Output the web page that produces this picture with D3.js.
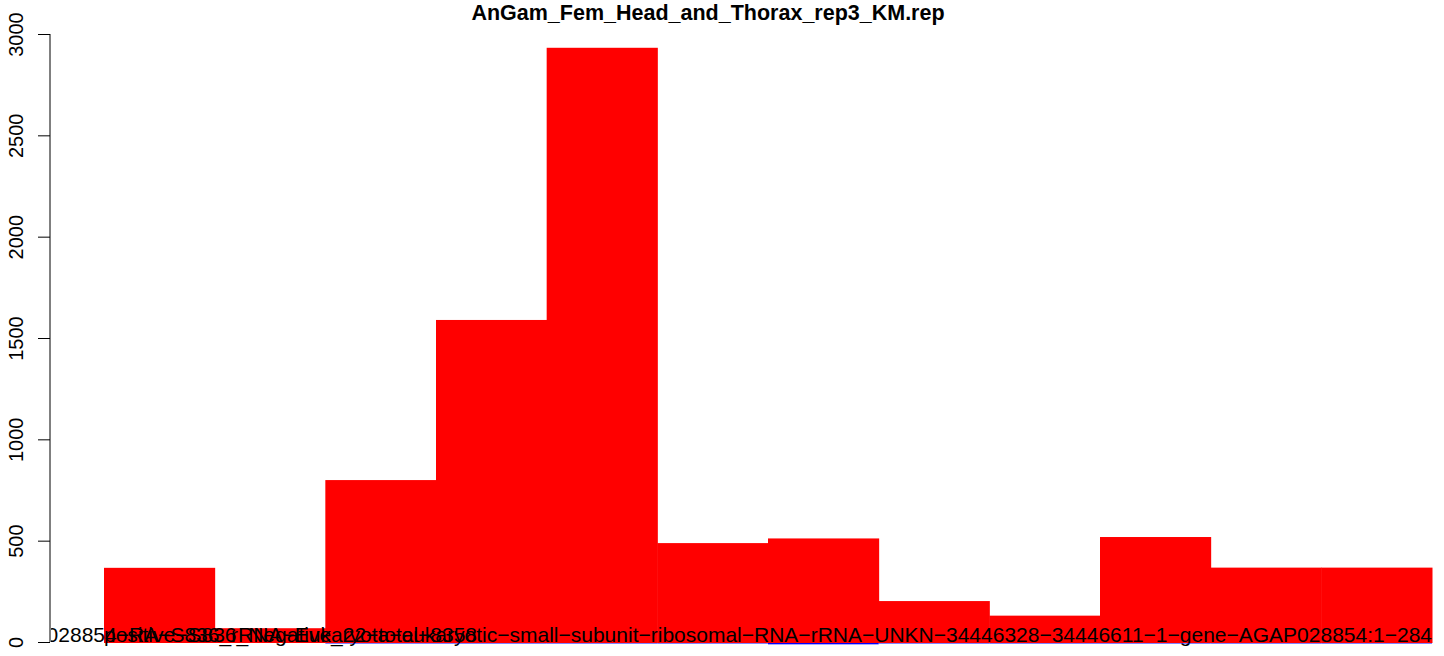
<!DOCTYPE html>
<html>
<head>
<meta charset="utf-8">
<script src="https://cdn.jsdelivr.net/npm/d3@7"></script>
<style>
  html, body { margin: 0; padding: 0; background: #fff; }
  svg { display: block; }
  text { font-family: "Liberation Sans", Arial, Helvetica, sans-serif; }
</style>
</head>
<body>
<svg id="chart" width="1444" height="656"></svg>
<script>
// ---- data ----
const title = "AnGam_Fem_Head_and_Thorax_rep3_KM.rep";
const categories = ["c1","c2","c3","c4","c5","c6","c7","c8","c9","c10","c11","c12"];
const redValues  = [366, 68, 799, 1589, 2932, 488, 511, 202, 130, 518, 367, 367];
const blueValues = [0, 0, 4, 4, 4, 4, 11, 4, 4, 4, 4, 4];
const yTicks = [0, 500, 1000, 1500, 2000, 2500, 3000];
const labelRightAligned = "AGAP028854-RA-S836_rRNA-Eukaryota-eukaryotic-small-subunit-ribosomal-RNA-rRNA-UNKN-34446328-34446611-1-gene-AGAP028854:1-284";
const labelLeftAligned  = "positive-S836_Negative_22-total-8358";

// ---- layout ----
const W = 1444, H = 656;
const plotLeft = 50, barsLeft = 104, barsRight = 1432, yBottom = 642, yTop = 34;
const svg = d3.select("#chart");

const x = d3.scaleBand().domain(categories).range([barsLeft, barsRight]).padding(0);
const y = d3.scaleLinear().domain([0, 3000]).range([yBottom, yTop]);

// red bars
svg.append("g").selectAll("rect").data(redValues).join("rect")
  .attr("x", (d, i) => x(categories[i]))
  .attr("width", x.bandwidth() + 0.5)
  .attr("y", d => y(d))
  .attr("height", d => y(0) - y(d) + 1)
  .attr("fill", "#ff0000");

// y axis (R style)
const yAxis = d3.axisLeft(y).tickValues(yTicks).tickSize(12).tickFormat(d3.format("d"));
const gy = svg.append("g").attr("transform", `translate(${plotLeft},0)`).call(yAxis);
gy.select(".domain").attr("d", `M0,${y(0)}V${y(3000)}`).attr("stroke", "#000").attr("stroke-width", 1);
gy.selectAll(".tick line").attr("stroke", "#000");
gy.selectAll(".tick text")
  .attr("font-size", 20)
  .attr("fill", "#000")
  .attr("text-anchor", "middle")
  .attr("x", null).attr("dy", null)
  .attr("transform", "translate(-27,0) rotate(-90)");

// clip for the labels (plot region)
svg.append("clipPath").attr("id", "plotclip")
  .append("rect").attr("x", plotLeft + 1).attr("y", 0).attr("width", W).attr("height", H);

const lab = svg.append("g").attr("clip-path", "url(#plotclip)");
const fix = s => s.replace(/-/g, "\u2212");
lab.append("text")
  .attr("x", x.range()[1]).attr("y", y(0))
  .attr("text-anchor", "end").attr("font-size", 21).attr("fill", "#000")
  .text(fix(labelRightAligned));
lab.append("text")
  .attr("x", x.range()[0]).attr("y", y(0))
  .attr("text-anchor", "start").attr("font-size", 21).attr("fill", "#000")
  .text(fix(labelLeftAligned));

// blue bars (small series, drawn at the base line)
svg.append("g").selectAll("rect").data(blueValues).join("rect")
  .attr("x", (d, i) => x(categories[i]))
  .attr("width", x.bandwidth())
  .attr("y", y(0) + 1)
  .attr("height", d => Math.max(0, y(0) - y(d)) * 0.6)
  .attr("fill", "#0000ff");

// title
svg.append("text")
  .attr("x", 708).attr("y", 20)
  .attr("text-anchor", "middle").attr("font-size", 21.5).attr("font-weight", "bold")
  .attr("fill", "#000")
  .text(title);
</script>
</body>
</html>
